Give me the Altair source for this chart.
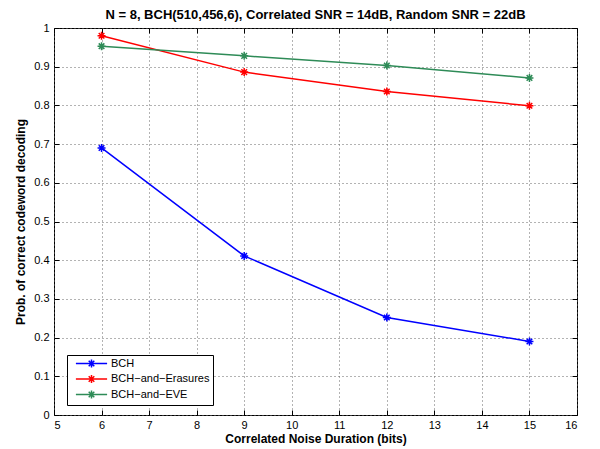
import altair as alt
import pandas as pd

x_vals = [6, 9, 12, 15]
bch = [0.690, 0.411, 0.252, 0.190]
bch_erasures = [0.980, 0.886, 0.836, 0.799]
bch_eve = [0.953, 0.928, 0.903, 0.871]

series_names = ["BCH", "BCH\u2212and\u2212Erasures", "BCH\u2212and\u2212EVE"]
series_colors = ["#0000ff", "#ff0000", "#2e8b57"]

x_ticks = list(range(5, 17))
y_ticks = [round(i * 0.1, 1) for i in range(11)]

rows = []
for name, vals in zip(series_names, [bch, bch_erasures, bch_eve]):
    for xv, yv in zip(x_vals, vals):
        rows.append({"dur": xv, "prob": yv, "series": name})
df = pd.DataFrame(rows)

FONT = "Liberation Sans"
star = "M-1,0L1,0M0,-1L0,1M-0.7,-0.7L0.7,0.7M-0.7,0.7L0.7,-0.7"
legend_star = "M-3.9,0L3.9,0M-1,0L1,0M0,-1L0,1M-0.7,-0.7L0.7,0.7M-0.7,0.7L0.7,-0.7"

xscale = alt.Scale(domain=[5, 16], nice=False, zero=False)
yscale = alt.Scale(domain=[0, 1], nice=False)
cscale = alt.Scale(domain=series_names, range=series_colors)

x_main = alt.X("dur:Q", scale=xscale, title="Correlated Noise Duration (bits)",
               axis=alt.Axis(values=x_ticks, orient="bottom", offset=-5, tickSize=5,
                             domain=False, labelPadding=4, titlePadding=3,
                             grid=True, gridDash=[1, 3], gridColor="#666666",
                             tickColor="black", labelColor="black",
                             labelFontSize=11, titleFontSize=12, titleFontWeight="bold",
                             labelFont=FONT, titleFont=FONT, titleColor="black"))
y_main = alt.Y("prob:Q", scale=yscale, title="Prob. of correct codeword decoding",
               axis=alt.Axis(values=y_ticks, orient="left", offset=-5, tickSize=5,
                             domain=False, labelPadding=5, titlePadding=6, format=".1~f",
                             grid=True, gridDash=[1, 3], gridColor="#666666",
                             tickColor="black", labelColor="black",
                             labelFontSize=11, titleFontSize=12, titleFontWeight="bold",
                             labelFont=FONT, titleFont=FONT, titleColor="black"))

color = alt.Color("series:N", scale=cscale, sort=series_names,
                  legend=alt.Legend(title=None, orient="none", legendX=13, legendY=327,
                                    strokeColor="black", fillColor="white",
                                    padding=3, symbolType=legend_star, symbolSize=64,
                                    symbolStrokeWidth=1.5, symbolOffset=16,
                                    labelOffset=14, rowPadding=0.5,
                                    labelFont=FONT, labelFontSize=11, labelColor="black"))

lines = alt.Chart(df).mark_line(strokeWidth=1.5).encode(
    x=x_main, y=y_main, color=color, detail="series:N")
points = alt.Chart(df).mark_point(shape=star, size=64, filled=False, strokeWidth=1.5,
                                  opacity=1).encode(
    x=alt.X("dur:Q", axis=None), y=alt.Y("prob:Q", axis=None), color=color)

x_top = alt.X("dur:Q", scale=xscale, title=None,
              axis=alt.Axis(values=x_ticks, orient="top", offset=-5, tickSize=5,
                            domain=False, labels=False, grid=False, tickColor="black"))
y_right = alt.Y("prob:Q", scale=yscale, title=None,
                axis=alt.Axis(values=y_ticks, orient="right", offset=-5, tickSize=5,
                              domain=False, labels=False, grid=False, tickColor="black"))
ghost = alt.Chart(df).mark_point(opacity=0).encode(x=x_top, y=y_right)

chart = alt.layer(lines, points, ghost).resolve_axis(
    x="independent", y="independent"
).properties(
    width=523, height=387,
    title=alt.TitleParams("N = 8, BCH(510,456,6), Correlated SNR = 14dB, Random SNR = 22dB",
                          font=FONT, fontSize=13, fontWeight="bold", color="black",
                          anchor="middle", offset=0),
    autosize=alt.AutoSizeParams(type="none"),
    padding={"left": 46, "top": 20, "right": 15, "bottom": 34},
).configure_view(stroke="black", strokeWidth=1)

chart.save("out.html", embed_options={"renderer": "svg", "actions": False})
